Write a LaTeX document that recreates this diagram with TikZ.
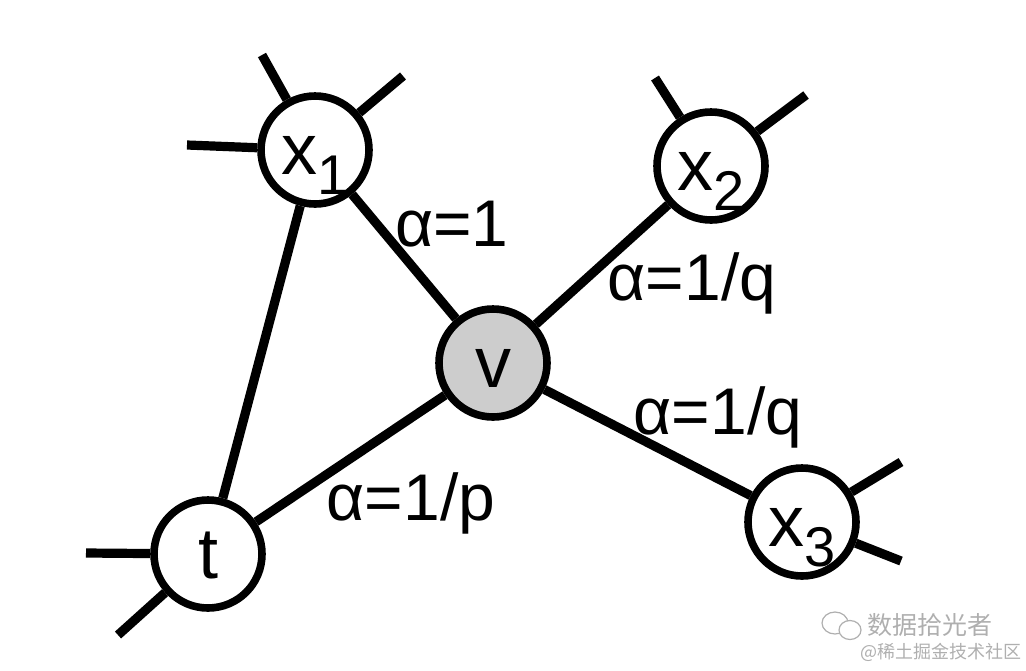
\documentclass[tikz,border=0pt]{standalone}
\usepackage{fontspec}
\setmainfont{Liberation Sans}
\newfontfamily\cjk{Noto Sans CJK SC}
\usepackage{tikz}
\definecolor{vgrey}{RGB}{205,205,205}
\definecolor{wmgrey}{RGB}{175,175,175}
\tikzstyle{vertex} = [circle, draw, line width=3.8pt, fill=white,
    minimum size=54pt, inner sep=0pt, text height=24pt, text depth=0pt,
    font=\fontsize{36}{36}\selectfont]
\tikzstyle{edge} = [draw, line width=4.6pt]
\tikzstyle{weight} = [inner sep=0pt, font=\fontsize{33}{33}\selectfont]
\tikzstyle{wmtext} = [inner sep=0pt, text=wmgrey, anchor=west]
\newcommand{\lowidx}[1]{\raisebox{-10pt}{\fontsize{28}{28}\selectfont #1}}

\begin{document}
\begin{tikzpicture}[x=0.5pt, y=-0.5pt]
\useasboundingbox (0,0) rectangle (1026,670);
    % Place nodes
\node [vertex] (x1) at (315,150) {x\lowidx{1}};
\node [vertex] (x2) at (711,166) {x\lowidx{2}};
\node [vertex, fill=vgrey] (v) at (493,363) {v};
\node [vertex] (t) at (208,554) {t};
\node [vertex] (x3) at (802,522) {x\lowidx{3}};

    % Loose ends
\coordinate (x1a) at (262,55);
\coordinate (x1b) at (403,76);
\coordinate (x1c) at (187,145);
\coordinate (x2a) at (655,78);
\coordinate (x2b) at (806,95);
\coordinate (ta) at (86,553);
\coordinate (tb) at (118,635);
\coordinate (x3a) at (901,462);
\coordinate (x3b) at (901,561);

    % Draw edges
\path [edge] (x1) -- (v);
\path [edge] (x2) -- (v);
\path [edge] (t) -- (v);
\path [edge] (x3) -- (v);
\path [edge] (x1) -- (t);
\path [edge] (x1) -- (x1a);
\path [edge] (x1) -- (x1b);
\path [edge] (x1) -- (x1c);
\path [edge] (x2) -- (x2a);
\path [edge] (x2) -- (x2b);
\path [edge] (t) -- (ta);
\path [edge] (t) -- (tb);
\path [edge] (x3) -- (x3a);
\path [edge] (x3) -- (x3b);

    % Weights
\node [weight] (w1) at (452,224) {α=1};
\node [weight] (w2) at (692,283) {α=1/q};
\node [weight] (w3) at (718,417) {α=1/q};
\node [weight] (w4) at (411,503) {α=1/p};

    % Watermark
\draw [wmgrey, line width=0.6pt] (835,623) ellipse (13 and 11);
\draw [wmgrey, line width=0.6pt, fill=white] (850,630) ellipse (11 and 9.5);
\node [wmtext, font=\cjk\fontsize{12.5}{12.5}\selectfont] (wm1) at (867,625) {数据拾光者};
\node [wmtext, font=\cjk\fontsize{9}{9}\selectfont] (wm2) at (860,652) {@稀土掘金技术社区};
\end{tikzpicture}
\end{document}
